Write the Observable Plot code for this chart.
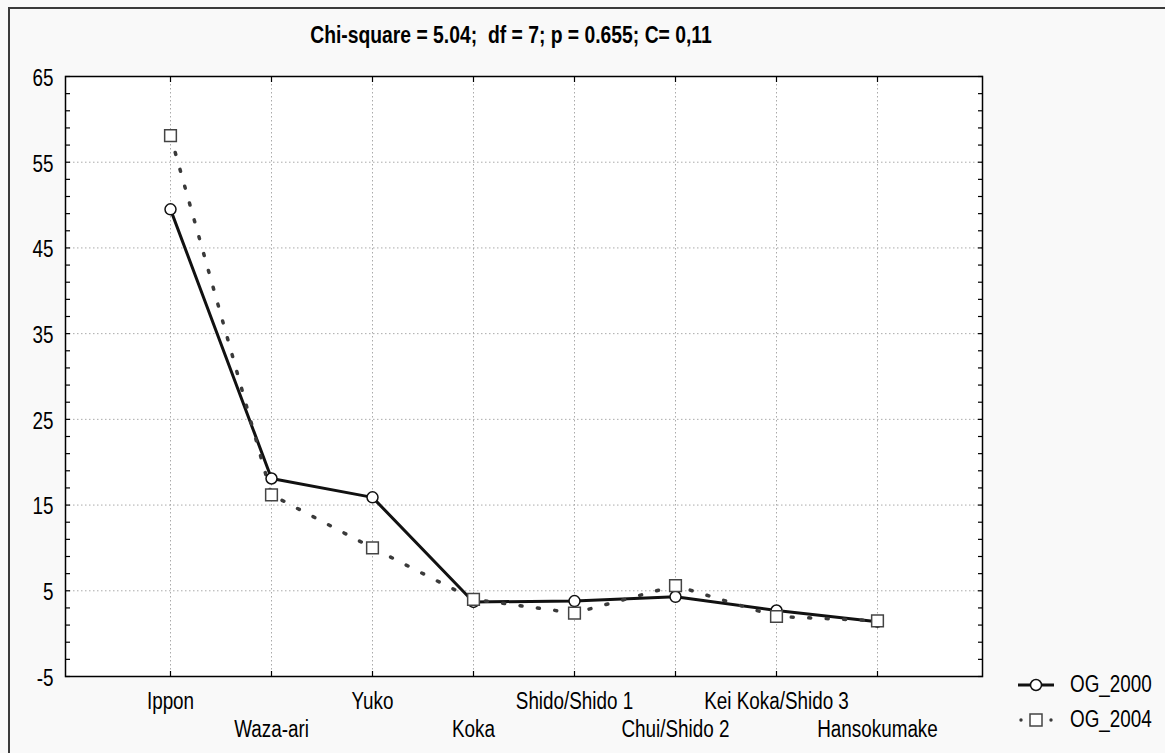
<!DOCTYPE html>
<html>
<head>
<meta charset="utf-8">
<script src="https://cdn.jsdelivr.net/npm/d3@7"></script>
<script src="https://cdn.jsdelivr.net/npm/@observablehq/plot@0.6"></script>
<style>
  html, body { margin: 0; padding: 0; background: #f9f9f9; }
  #wrap { position: relative; width: 1165px; height: 753px; overflow: hidden;
          font-family: "Liberation Sans", Arial, sans-serif; }
  #border { position: absolute; left: 8px; top: 7px; width: 1200px; height: 800px;
            border-top: 2px solid #3a3a3a; border-left: 2px solid #3a3a3a; }
  #title { position: absolute; left: 0; width: 1022px; top: 21px; text-align: center;
           font-weight: bold; font-size: 23px; line-height: 28px; white-space: pre; color: #000;
           transform: scaleX(0.84); transform-origin: 511px 0; }
  #chart { position: absolute; left: 0; top: 0; }
  .leg { position: absolute; left: 1016px; display: flex; align-items: center; font-size: 23px; color: #000; }
  .leg svg { margin-right: 14px; }
  .leg span { display: inline-block; transform: scaleX(0.82); transform-origin: 0 50%; }
</style>
</head>
<body>
<div id="wrap">
  <div id="border"></div>
  <div id="chart"></div>
  <div id="title"></div>
  <div id="legend"></div>
</div>
<script>
const categories = ["Ippon", "Waza-ari", "Yuko", "Koka", "Shido/Shido 1", "Chui/Shido 2", "Kei Koka/Shido 3", "Hansokumake"];
const og2000 = [49.5, 18.1, 15.9, 3.7, 3.8, 4.3, 2.7, 1.4];
const og2004 = [58.1, 16.2, 10.0, 4.0, 2.4, 5.6, 2.0, 1.5];
const yTicks = [-5, 5, 15, 25, 35, 45, 55, 65];
const seriesNames = ["OG_2000", "OG_2004"];
const titleText = "Chi-square = 5.04;  df = 7; p = 0.655; C= 0,11";

const rows2000 = categories.map((c, i) => ({cat: c, v: og2000[i], s: seriesNames[0]}));
const rows2004 = categories.map((c, i) => ({cat: c, v: og2004[i], s: seriesNames[1]}));
const minorTicks = d3.range(yTicks[0], yTicks[yTicks.length - 1] + 0.01, 2);
const evenCats = categories.filter((d, i) => i % 2 === 0);
const oddCats = categories.filter((d, i) => i % 2 === 1);
const font = '"Liberation Sans", Arial, sans-serif';
const gridStyle = {stroke: "#aaaaaa", strokeOpacity: 1, strokeDasharray: "1.5,2.5", strokeWidth: 1};

const chart = Plot.plot({
  width: 1165,
  height: 753,
  marginLeft: 65,
  marginRight: 183,
  marginTop: 76,
  marginBottom: 77,
  x: {type: "point", domain: categories, padding: 1},
  y: {domain: [yTicks[0], yTicks[yTicks.length - 1]]},
  style: {background: "transparent", fontFamily: font, fontSize: "23px", color: "#000", overflow: "visible"},
  marks: [
    Plot.frame({fill: "white", stroke: null}),
    Plot.gridX({...gridStyle}),
    Plot.gridY(yTicks.slice(1, -1), {...gridStyle}),
    Plot.axisY({ticks: yTicks, tickSize: 0, tickPadding: 12, dy: 2, label: null, fontSize: 23, tickFormat: d => String(d)}),
    Plot.axisY({ticks: minorTicks, tickSize: -5, text: null, label: null, strokeWidth: 1.2}),
    Plot.axisY({anchor: "right", ticks: minorTicks, tickSize: -5, text: null, label: null, strokeWidth: 1.2}),
    Plot.axisX({ticks: evenCats, tickSize: 0, tickPadding: 16, label: null, fontSize: 23}),
    Plot.axisX({ticks: oddCats, tickSize: 0, tickPadding: 44, label: null, fontSize: 23}),
    Plot.axisX({tickSize: -5, text: null, label: null, strokeWidth: 1.2}),
    Plot.axisX({anchor: "top", tickSize: -5, text: null, label: null, strokeWidth: 1.2}),
    Plot.line(rows2000, {x: "cat", y: "v", stroke: "#111", strokeWidth: 3}),
    Plot.line(rows2004, {x: "cat", y: "v", stroke: "#3a3a3a", strokeWidth: 3.5, strokeDasharray: "2,15.5", strokeLinecap: "round"}),
    Plot.dot(rows2000, {x: "cat", y: "v", r: 5.5, fill: "white", stroke: "#111", strokeWidth: 1.5}),
    Plot.dot(rows2004, {x: "cat", y: "v", symbol: "square", r: 6.6, fill: "white", stroke: "#444", strokeWidth: 1.5}),
    Plot.frame({stroke: "#000", strokeWidth: 1.5})
  ]
});

// condense axis text horizontally (narrow typeface look) without moving it
const ctx = document.createElement("canvas").getContext("2d");
ctx.font = '23px "Liberation Sans", Arial, sans-serif';
chart.querySelectorAll("text").forEach(t => {
  const s = t.textContent;
  if (!s) return;
  const w = ctx.measureText(s).width;
  t.setAttribute("textLength", (w * 0.82).toFixed(1));
  t.setAttribute("lengthAdjust", "spacingAndGlyphs");
});

document.getElementById("chart").appendChild(chart);
document.getElementById("title").textContent = titleText;

// legend
const legend = document.getElementById("legend");
const legendSymbols = [
  `<svg width="40" height="20"><line x1="2" y1="10" x2="38" y2="10" stroke="#111" stroke-width="3"/><circle cx="20" cy="10" r="5.5" fill="white" stroke="#111" stroke-width="1.5"/></svg>`,
  `<svg width="40" height="20"><circle cx="5" cy="10" r="1.7" fill="#3a3a3a"/><circle cx="35" cy="10" r="1.7" fill="#3a3a3a"/><rect x="14" y="4" width="12" height="12" fill="white" stroke="#444" stroke-width="1.5"/></svg>`
];
const legendTops = [671, 706];
seriesNames.forEach((name, i) => {
  const d = document.createElement("div");
  d.className = "leg";
  d.style.top = legendTops[i] + "px";
  d.innerHTML = legendSymbols[i] + `<span>${name}</span>`;
  legend.appendChild(d);
});
</script>
</body>
</html>
